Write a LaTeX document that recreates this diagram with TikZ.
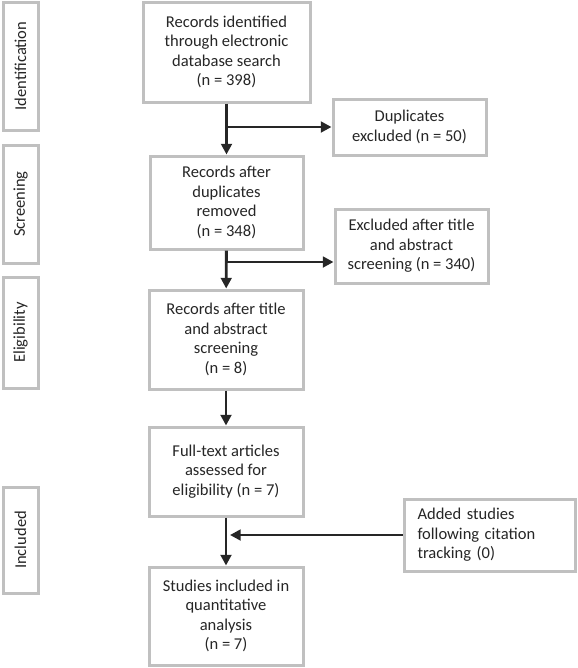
\documentclass[tikz,border=0pt]{standalone}
\usepackage{fontspec}
\setmainfont{Carlito}
\usetikzlibrary{arrows.meta}

\definecolor{boxgray}{RGB}{192,192,192}
\definecolor{inkgray}{RGB}{38,38,38}

\tikzset{every picture/.style={line width=0.75pt}}
\tikzset{
  flowbox/.style={draw=boxgray, line width=2.25pt, fill=white, text=inkgray, align=center, inner sep=2pt, font=\fontsize{12.4}{14.6}\selectfont},
  phasebox/.style={flowbox, rotate=90},
  flowarrow/.style={draw=inkgray, line width=2.2pt, -{Triangle[length=8pt,width=8pt]}}
}

\begin{document}
\begin{tikzpicture}[x=0.75pt,y=0.75pt,yscale=-1,xscale=1]
	\useasboundingbox (0,0) rectangle (578,668);

	%Shape: Rectangle [phase labels]
	\node (ident) at (20.5,66) [phasebox, minimum width=96pt, minimum height=26.25pt] {Identification};
	\node (screen) at (20.5,204) [phasebox, minimum width=88.5pt, minimum height=26.25pt] {Screening};
	\node (elig) at (20.5,332.5) [phasebox, minimum width=83.25pt, minimum height=26.25pt] {Eligibility};
	\node (incl) at (20.5,540) [phasebox, minimum width=79.5pt, minimum height=26.25pt] {Included};

	%Shape: Rectangle [main column]
	\node (found) at (226.5,52) [flowbox, minimum width=125.25pt, minimum height=75pt] {Records identified\\through electronic\\database search\\(n = 398)};
	\node (dedup) at (226.5,202.5) [flowbox, minimum width=114.75pt, minimum height=69.75pt] {Records after\\duplicates\\removed\\(n = 348)};
	\node (screened) at (226,339.5) [flowbox, minimum width=115.5pt, minimum height=74.25pt] {Records after title\\and abstract\\screening\\(n = 8)};
	\node (fulltext) at (226,471.5) [flowbox, minimum width=115.5pt, minimum height=66.75pt] {Full-text articles\\assessed for\\eligibility (n = 7)};
	\node (final) at (226,616) [flowbox, minimum width=115.5pt, minimum height=73.5pt] {Studies included in\\quantitative\\analysis\\(n = 7)};

	%Shape: Rectangle [side column]
	\node (dupes) at (409.5,127) [flowbox, minimum width=114.75pt, minimum height=42pt] {Duplicates\\excluded (n = 50)};
	\node (excluded) at (411.5,246) [flowbox, minimum width=114.75pt, minimum height=55.5pt] {Excluded after title\\and abstract\\screening (n = 340)};
	\node (added) at (489.5,535) [flowbox, minimum width=128.25pt, minimum height=54pt, text width=108pt, align=left] {Added studies\\following citation\\tracking (0)};

	%Straight Lines
	\coordinate (split2) at (226,262);
	\draw [flowarrow] (found) -- (dedup);
	\draw [flowarrow] (found.south |- dupes.west) -- (dupes.west);
	\draw [flowarrow] (dedup) -- (screened);
	\draw [flowarrow] (split2) -- (split2 -| excluded.west);
	\draw [flowarrow] (screened) -- (fulltext);
	\draw [flowarrow] (fulltext) -- (final);
	\draw [flowarrow, shorten >=3pt] (added.west) -- (added.west -| fulltext.south);

\end{tikzpicture}
\end{document}
